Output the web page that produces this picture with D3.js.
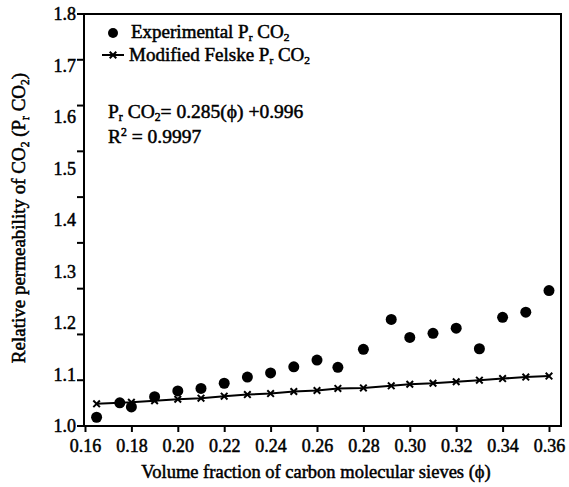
<!DOCTYPE html>
<html>
<head>
<meta charset="utf-8">
<script src="https://cdn.jsdelivr.net/npm/d3@7"></script>
<style>
  body { margin: 0; background: #fff; }
</style>
</head>
<body>
<script>
const w = 569;
const h = 487;
const fontFamily = "'Liberation Serif'";

// volume fraction of CMS (phi)
const phi = [0.165, 0.175, 0.18, 0.19, 0.20, 0.21, 0.22, 0.23, 0.24, 0.25, 0.26,
  0.269, 0.28, 0.292, 0.30, 0.31, 0.32, 0.33, 0.34, 0.35, 0.36];
// experimental Pr CO2
const experimental = [1.017, 1.045, 1.037, 1.057, 1.068, 1.073, 1.083, 1.095, 1.103, 1.115, 1.128,
  1.114, 1.149, 1.207, 1.172, 1.180, 1.190, 1.150, 1.211, 1.221, 1.263];
// modified Felske Pr CO2
const felske = [1.043, 1.045, 1.046, 1.049, 1.052, 1.054, 1.058, 1.061, 1.063, 1.067, 1.069,
  1.073, 1.074, 1.078, 1.081, 1.083, 1.086, 1.089, 1.092, 1.095, 1.097];

const xTicks = [0.16, 0.18, 0.20, 0.22, 0.24, 0.26, 0.28, 0.30, 0.32, 0.34, 0.36];
const yTicks = [1.0, 1.1, 1.2, 1.3, 1.4, 1.5, 1.6, 1.7, 1.8];

const pLeft = 84, pRight = 561, pTop = 14, pBottom = 426;

const svg = d3.select("body").append("svg")
  .attr("width", w)
  .attr("height", h);

// all chart text: Times-like serif, thickened like the scan
function styleText(sel, size) {
  return sel
    .style("font-family", fontFamily)
    .style("font-size", size + "px")
    .attr("fill", "#000")
    .attr("stroke", "#000")
    .attr("stroke-width", 0.5);
}

const xScale = d3.scaleLinear().domain([0.16, 0.36]).range([85, 549]);
const yScale = d3.scaleLinear().domain([1.0, 1.8]).range([pBottom, pTop]);
// the tick marks on the original y axis are spaced on their own grid
const markScale = d3.scaleLinear().domain([0, 9]).range([pBottom, pTop]);

// frame
svg.append("rect")
  .attr("x", pLeft).attr("y", pTop)
  .attr("width", pRight - pLeft).attr("height", pBottom - pTop)
  .attr("fill", "none").attr("stroke", "#000").attr("stroke-width", 2);

// x axis
const xAxis = d3.axisBottom(xScale)
  .tickValues(xTicks)
  .tickFormat(d3.format(".2f"))
  .tickSize(6)
  .tickSizeOuter(0);
const gx = svg.append("g")
  .attr("transform", "translate(0," + pBottom + ")")
  .call(xAxis);
gx.select(".domain").remove();
gx.selectAll("line").attr("stroke-width", 2);
styleText(gx.selectAll("text"), 18).attr("dy", "0.95em");

// y axis labels
const yAxis = d3.axisLeft(yScale)
  .tickValues(yTicks)
  .tickFormat(d3.format(".1f"))
  .tickSize(0)
  .tickPadding(8);
const gy = svg.append("g")
  .attr("transform", "translate(" + pLeft + ",0)")
  .call(yAxis);
gy.select(".domain").remove();
styleText(gy.selectAll("text"), 18);

// y tick marks
svg.append("g")
  .selectAll("line")
  .data(d3.range(10))
  .enter()
  .append("line")
  .attr("x1", pLeft - 7).attr("x2", pLeft)
  .attr("y1", d => markScale(d)).attr("y2", d => markScale(d))
  .attr("stroke", "#000").attr("stroke-width", 2);

// modified Felske line
const line = d3.line()
  .x((d, i) => xScale(phi[i]))
  .y(d => yScale(d));
svg.append("path")
  .datum(felske)
  .attr("d", line)
  .attr("fill", "none")
  .attr("stroke", "#000")
  .attr("stroke-width", 2);

const cross = d3.symbol().type(d3.symbolX).size(30);
svg.append("g")
  .selectAll("path")
  .data(felske)
  .enter()
  .append("path")
  .attr("d", cross)
  .attr("transform", (d, i) => "translate(" + xScale(phi[i]) + "," + yScale(d) + ")")
  .attr("stroke", "#000")
  .attr("stroke-width", 2);

// experimental points
svg.append("g")
  .selectAll("circle")
  .data(experimental)
  .enter()
  .append("circle")
  .attr("cx", (d, i) => xScale(phi[i]))
  .attr("cy", d => yScale(d))
  .attr("r", 5.5)
  .attr("fill", "#000");

// legend
const legend = svg.append("g");
legend.append("circle")
  .attr("cx", 113).attr("cy", 33).attr("r", 5)
  .attr("fill", "#000");
legend.append("line")
  .attr("x1", 102).attr("x2", 124).attr("y1", 55).attr("y2", 55)
  .attr("stroke", "#000").attr("stroke-width", 2);
legend.append("path")
  .attr("d", cross)
  .attr("transform", "translate(113,55)")
  .attr("stroke", "#000").attr("stroke-width", 2);

function subText(g, x, y, parts, size) {
  const t = styleText(g.append("text").attr("x", x).attr("y", y), size);
  parts.forEach(p => {
    const s = t.append("tspan").text(p[0]);
    if (p[1] === "sub") s.attr("dy", 3).style("font-size", (size * 0.6) + "px");
    else if (p[1] === "sup") s.attr("dy", -7).style("font-size", (size * 0.6) + "px");
    else if (p[1] === "back") s.attr("dy", p[2]);
  });
  return t;
}

subText(legend, 131, 38, [["Experimental P"], ["r", "sub"], [" CO", "back", -3], ["2", "sub"]], 19);
subText(legend, 129, 61, [["Modified Felske P"], ["r", "sub"], [" CO", "back", -3], ["2", "sub"]], 19);

subText(svg, 108, 118, [["P"], ["r", "sub"], [" CO", "back", -3], ["2", "sub"], ["= 0.285(\u03d5) +0.996", "back", -3]], 19.5);
subText(svg, 108, 143, [["R"], ["2", "sup"], [" = 0.9997", "back", 7]], 19.5);

// axis titles
styleText(svg.append("text"), 18.5)
  .attr("x", 316).attr("y", 478)
  .attr("text-anchor", "middle")
  .text("Volume fraction of carbon molecular sieves (\u03d5)");

const yl = styleText(svg.append("text"), 19)
  .attr("transform", "translate(25," + 218 + ") rotate(-90)")
  .attr("text-anchor", "middle");
yl.append("tspan").text("Relative permeability of CO");
yl.append("tspan").text("2").attr("dy", 4).style("font-size", "11.5px");
yl.append("tspan").text(" (P").attr("dy", -4);
yl.append("tspan").text("r").attr("dy", 4).style("font-size", "11.5px");
yl.append("tspan").text(" CO").attr("dy", -4);
yl.append("tspan").text("2").attr("dy", 4).style("font-size", "11.5px");
yl.append("tspan").text(")").attr("dy", -4);
</script>
</body>
</html>
